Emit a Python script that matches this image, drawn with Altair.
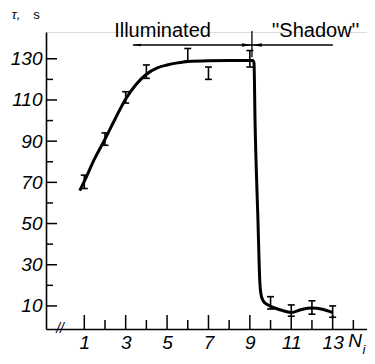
import altair as alt
import pandas as pd

# error-bar measurements (N_i, lower, upper) in seconds
ERR_N = [1, 2, 3, 4, 6, 7, 9, 10, 11, 12, 13]
ERR_LO = [67, 88, 108.5, 120.5, 129, 120, 126, 8.5, 5, 6, 4.5]
ERR_HI = [73.5, 94, 114, 127, 135, 126, 134, 14.5, 10.5, 12.5, 10]

# smooth curve
CURVE_N = [0.78, 1.0, 1.5, 2.0, 2.5, 3.0, 3.5, 4.0, 4.5, 5.0, 5.5, 6.0, 7.0, 8.0,
           9.14, 9.2, 9.25, 9.39, 9.48, 9.54, 9.64, 9.82, 10.0, 10.5, 11.0, 11.5,
           12.0, 12.5, 13.0]
CURVE_T = [66, 70.5, 81.5, 91, 101, 110.5, 117.5, 122.5, 125.5, 127, 128, 128.7,
           129.1, 129.2, 129.2, 128, 100, 52, 22, 15.5, 12.5, 10.8, 9.8, 8, 6.8,
           8.3, 9, 8.4, 6.8]

X_LABELS = [1, 3, 5, 7, 9, 11, 13]
X_MINOR = [2, 4, 6, 8, 10, 12, 14]
Y_LABELS = [10, 30, 50, 70, 90, 110, 130]
Y_MINOR = [20, 40, 60, 80, 100, 120]

X_DOM = [-0.85, 14.66]
Y_DOM = [-1.2, 143]

FONT = "Liberation Sans"
xs = alt.Scale(domain=X_DOM, nice=False, zero=False)
ys = alt.Scale(domain=Y_DOM, nice=False, zero=False)

X_AX = alt.Axis(values=X_LABELS, title=None, ticks=False, grid=False,
                domainColor="black", domainWidth=1.6, labelFont=FONT,
                labelFontStyle="italic", labelFontSize=19, labelColor="black",
                labelPadding=4, labelOverlap=False)
Y_AX = alt.Axis(values=Y_LABELS, title=None, ticks=False, grid=False,
                domainColor="black", domainWidth=1.6, labelFont=FONT,
                labelFontStyle="italic", labelFontSize=19, labelColor="black",
                labelPadding=4, labelOverlap=False)


def XD(v):
    return alt.XDatum(v, type="quantitative", scale=xs, axis=X_AX)


def YD(v):
    return alt.YDatum(v, type="quantitative", scale=ys, axis=Y_AX)


one = pd.DataFrame({"a": [0]})
err_df = pd.DataFrame({"n": ERR_N, "lo": ERR_LO, "hi": ERR_HI})
curve_df = pd.DataFrame({"n": CURVE_N, "t": CURVE_T})

xq = alt.X("n:Q", scale=xs, axis=X_AX)

curve = alt.Chart(curve_df).mark_line(
    interpolate="monotone", color="black", strokeWidth=3
).encode(x=xq, y=alt.Y("t:Q", scale=ys, axis=Y_AX))

bars = alt.Chart(err_df).mark_rule(color="black", strokeWidth=1.6).encode(
    x=xq, y=alt.Y("lo:Q", scale=ys, axis=Y_AX), y2="hi:Q")
cap_lo = alt.Chart(err_df).mark_tick(
    orient="horizontal", size=7, thickness=1.6, color="black", opacity=1
).encode(x=xq, y=alt.Y("lo:Q", scale=ys, axis=Y_AX))
cap_hi = alt.Chart(err_df).mark_tick(
    orient="horizontal", size=7, thickness=1.6, color="black", opacity=1
).encode(x=xq, y=alt.Y("hi:Q", scale=ys, axis=Y_AX))

# axis ticks pointing inward
xt_major = alt.Chart(pd.DataFrame({"n": X_LABELS})).mark_tick(
    orient="vertical", size=14, thickness=1.5, yOffset=-7, color="black", opacity=1
).encode(x=xq, y=YD(Y_DOM[0]))
xt_minor = alt.Chart(pd.DataFrame({"n": X_MINOR})).mark_tick(
    orient="vertical", size=9, thickness=1.5, yOffset=-4.5, color="black", opacity=1
).encode(x=xq, y=YD(Y_DOM[0]))
yt_major = alt.Chart(pd.DataFrame({"t": Y_LABELS})).mark_tick(
    orient="horizontal", size=11, thickness=1.5, xOffset=5.5, color="black", opacity=1
).encode(x=XD(X_DOM[0]), y=alt.Y("t:Q", scale=ys, axis=Y_AX))
yt_minor = alt.Chart(pd.DataFrame({"t": Y_MINOR})).mark_tick(
    orient="horizontal", size=7, thickness=1.5, xOffset=3.5, color="black", opacity=1
).encode(x=XD(X_DOM[0]), y=alt.Y("t:Q", scale=ys, axis=Y_AX))

# axis break
brk = alt.Chart(one).mark_text(
    text="//", font=FONT, fontSize=14, fontStyle="italic", color="black",
    baseline="middle", align="center"
).encode(x=XD(-0.17), y=YD(Y_DOM[0]))

# annotation
hline = alt.Chart(one).mark_rule(color="black", strokeWidth=1.3).encode(
    x=XD(3.35), x2=alt.X2Datum(13.01), y=YD(136.7))
vline = alt.Chart(one).mark_rule(color="black", strokeWidth=1.3).encode(
    x=XD(9.1), y=YD(130.8), y2=alt.Y2Datum(143.5))
arr_r = alt.Chart(one).mark_point(
    shape="M-1,-0.35L1,0L-1,0.35Z", size=100, filled=True, color="black", opacity=1
).encode(x=XD(8.86), y=YD(136.7))
arr_l = alt.Chart(one).mark_point(
    shape="M1,-0.35L-1,0L1,0.35Z", size=100, filled=True, color="black", opacity=1
).encode(x=XD(9.34), y=YD(136.7))
arr_end = alt.Chart(one).mark_point(
    shape="M1,-0.3L-1,0L1,0.3Z", size=60, filled=True, color="black", opacity=1
).encode(x=XD(3.55), y=YD(136.7))

t_ill = alt.Chart(one).mark_text(
    text="Illuminated", font=FONT, fontSize=20, color="black",
    align="center", baseline="alphabetic"
).encode(x=XD(4.78), y=YD(140.5))
t_sh = alt.Chart(one).mark_text(
    text="''Shadow''", font=FONT, fontSize=20, color="black",
    align="center", baseline="alphabetic"
).encode(x=XD(12.17), y=YD(140.5))

t_tau = alt.Chart(one).mark_text(
    text="τ,", font=FONT, fontSize=13, fontStyle="italic", color="black",
    align="center", baseline="top"
).encode(x=alt.value(-30), y=alt.value(-23.5))
t_s = alt.Chart(one).mark_text(
    text="s", font=FONT, fontSize=13, color="black",
    align="center", baseline="top"
).encode(x=alt.value(-9.5), y=alt.value(-23.5))
t_N = alt.Chart(one).mark_text(
    text="N", font=FONT, fontSize=19, fontStyle="italic", color="black",
    align="center", baseline="alphabetic"
).encode(x=alt.value(309), y=alt.value(315))
t_i = alt.Chart(one).mark_text(
    text="i", font=FONT, fontSize=13, fontStyle="italic", color="black",
    align="center", baseline="alphabetic"
).encode(x=alt.value(318), y=alt.value(322))

chart = alt.layer(
    curve, bars, cap_lo, cap_hi, xt_major, xt_minor, yt_major, yt_minor,
    brk, hline, vline, arr_r, arr_l, arr_end, t_ill, t_sh, t_tau, t_s, t_N, t_i
).properties(
    width=321, height=297,
    autosize=alt.AutoSizeParams(type="none"),
    padding={"left": 38, "top": 24, "right": 0, "bottom": 27},
).configure_view(stroke=None).configure(background="white")

chart.save("out.html", embed_options={"renderer": "svg", "actions": False})
